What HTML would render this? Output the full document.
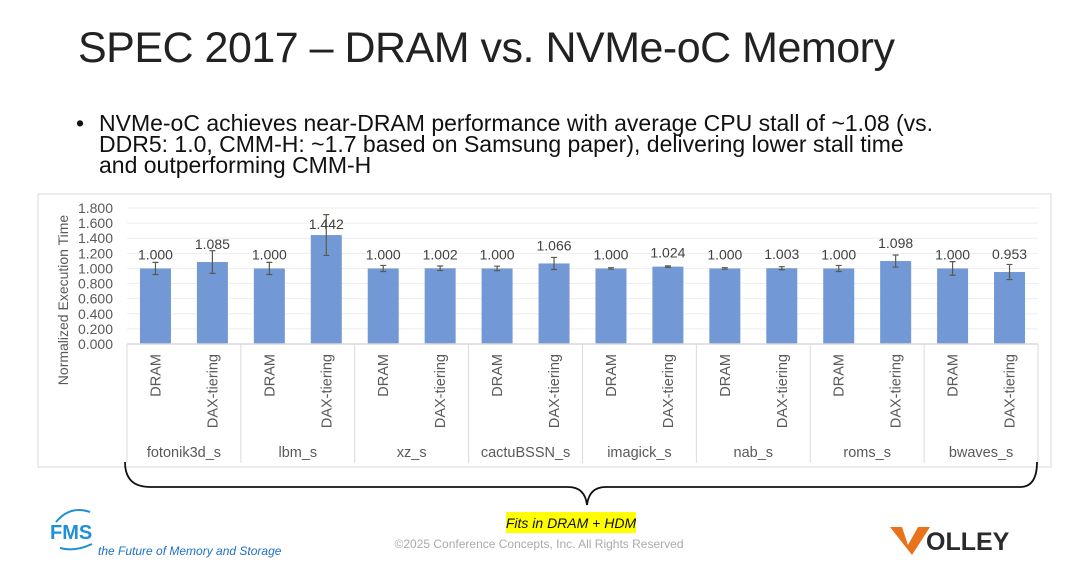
<!DOCTYPE html>
<html><head><meta charset="utf-8"><style>
body{margin:0;width:1080px;height:562px;background:#fff;overflow:hidden;position:relative;font-family:"Liberation Sans",sans-serif}
#title{position:absolute;left:78px;top:24px;font-size:43px;color:#222;letter-spacing:-0.5px;white-space:nowrap}
#bullet{position:absolute;left:76px;top:113px;font-size:23px;line-height:21px;color:#111;width:1000px;white-space:nowrap}
#bullet span.dot{position:absolute;left:0;top:0}
#bullet div.t{margin-left:23px}
</style></head><body>
<div id="title">SPEC 2017 – DRAM vs. NVMe-oC Memory</div>
<div id="bullet"><span class="dot">•</span><div class="t">NVMe-oC achieves near-DRAM performance with average CPU stall of ~1.08 (vs.<br>DDR5: 1.0, CMM-H: ~1.7 based on Samsung paper), delivering lower stall time<br>and outperforming CMM-H</div></div>
<svg id="chart" width="1080" height="562" style="position:absolute;left:0;top:0"></svg>
<script>
const groups=["fotonik3d_s","lbm_s","xz_s","cactuBSSN_s","imagick_s","nab_s","roms_s","bwaves_s"];
const series=["DRAM","DAX-tiering"];
const dramVals=[1.000,1.000,1.000,1.000,1.000,1.000,1.000,1.000];
const daxVals=[1.085,1.442,1.002,1.066,1.024,1.003,1.098,0.953];
const dramErr=[0.08,0.08,0.04,0.03,0.01,0.01,0.04,0.09];
const daxErr=[0.15,0.27,0.03,0.08,0.01,0.02,0.08,0.10];
const yTicks=[0,0.2,0.4,0.6,0.8,1.0,1.2,1.4,1.6,1.8];
const NS="http://www.w3.org/2000/svg";
const svg=document.getElementById('chart');
const X0=127,X1=1038,Y0=344,Y1=208,YMAX=1.8;
const y=v=>Y0-(v/YMAX)*(Y0-Y1);
const gw=(X1-X0)/groups.length;
const slot=gw/2;
const xc=(g,s)=>X0+g*gw+slot*(s+0.5);
function mk(t,a,txt){const e=document.createElementNS(NS,t);for(const k in a)e.setAttribute(k,a[k]);if(txt!==undefined)e.textContent=txt;svg.appendChild(e);return e;}
let e=mk('rect',{x:38,y:194,width:1013,height:273,fill:'none',stroke:'#d9d9d9'});


yTicks.forEach(t=>{
 if(t>0){let g=mk('line',{x1:X0,x2:X1,y1:y(t),y2:y(t),stroke:'#eeeeee'});
 
 }
 let l=mk('text',{x:113,y:y(t)+5,'text-anchor':'end','font-size':14,fill:'#595959'},t.toFixed(3));
 
 
});
e=mk('text',{x:0,y:0,'font-size':14,fill:'#595959','text-anchor':'middle',transform:'translate(68,300) rotate(-90)'},'Normalized Execution Time');


const vals=[dramVals,daxVals],errs=[dramErr,daxErr];
groups.forEach((gname,g)=>{
 series.forEach((s,si)=>{
  const v=vals[si][g],er=errs[si][g],cx=xc(g,si),bw=31;
  let b=mk('rect',{x:cx-bw/2,y:y(v),width:bw,height:Y0-y(v),fill:'#7398d6'});
  
  
  const et=y(v+er),eb=y(v-er);
  let el=mk('path',{d:`M${cx},${et}V${eb}M${cx-3},${et}H${cx+3}M${cx-3},${eb}H${cx+3}`,stroke:'#5a5a4a','stroke-width':1.2,fill:'none'});
  
  
  let lb=mk('text',{x:cx,y:y(v)-9-(v<1?4:0)-(v>1.05&&v<1.3?4:0)+(v>1.3?3:0),'text-anchor':'middle','font-size':14,fill:'#404040'},v.toFixed(3));
  
  
  let cl=mk('text',{x:0,y:0,'font-size':14.5,fill:'#595959',transform:`translate(${cx+5},${354}) rotate(-90)`,'text-anchor':'end'},s);
  
  
 });
 let gl=mk('text',{x:X0+g*gw+gw/2,y:457,'text-anchor':'middle','font-size':14.5,fill:'#595959'},gname);
 
 
});
for(let i=0;i<=groups.length;i++){
 let d=mk('line',{x1:X0+i*gw,x2:X0+i*gw,y1:Y0,y2:463,stroke:'#d9d9d9'});
 
 
}
e=mk('line',{x1:X0,x2:X1,y1:Y0,y2:Y0,stroke:'#d9d9d9','stroke-width':1.5});


e=mk('path',{d:'M125,462 Q125,487 150,487 H568 Q585,487 587,505 Q589,487 606,487 H1020 Q1037,487 1037,462',fill:'none',stroke:'#111','stroke-width':1.8});


e=mk('rect',{x:506,y:512,width:130,height:21,fill:'#ffff00'});


e=mk('text',{x:571,y:528,'text-anchor':'middle','font-size':14,'font-style':'italic',fill:'#111'},'Fits in DRAM + HDM');


e=mk('text',{x:539,y:548,'text-anchor':'middle','font-size':12,fill:'#aaaaaa'},'©2025 Conference Concepts, Inc. All Rights Reserved');


e=mk('text',{x:50,y:539,'font-size':20,fill:'#1e90d8','font-weight':'bold'},'FMS');


e=mk('path',{d:'M56,522 Q70,505 90,512 M60,548 Q75,552 92,544',stroke:'#1e90d8','stroke-width':2,fill:'none'});


e=mk('text',{x:98,y:555,'font-size':12,fill:'#1e70c8','font-style':'italic'},'the Future of Memory and Storage');


e=mk('path',{d:'M890,527 L902,527 L908,545 L918,527 L930,527 L912,555 Z',fill:'#e8731a'});


e=mk('text',{x:926,y:550,'font-size':25,'font-weight':'bold',fill:'#2a2a2a'},'OLLEY');


</script>
</body></html>
